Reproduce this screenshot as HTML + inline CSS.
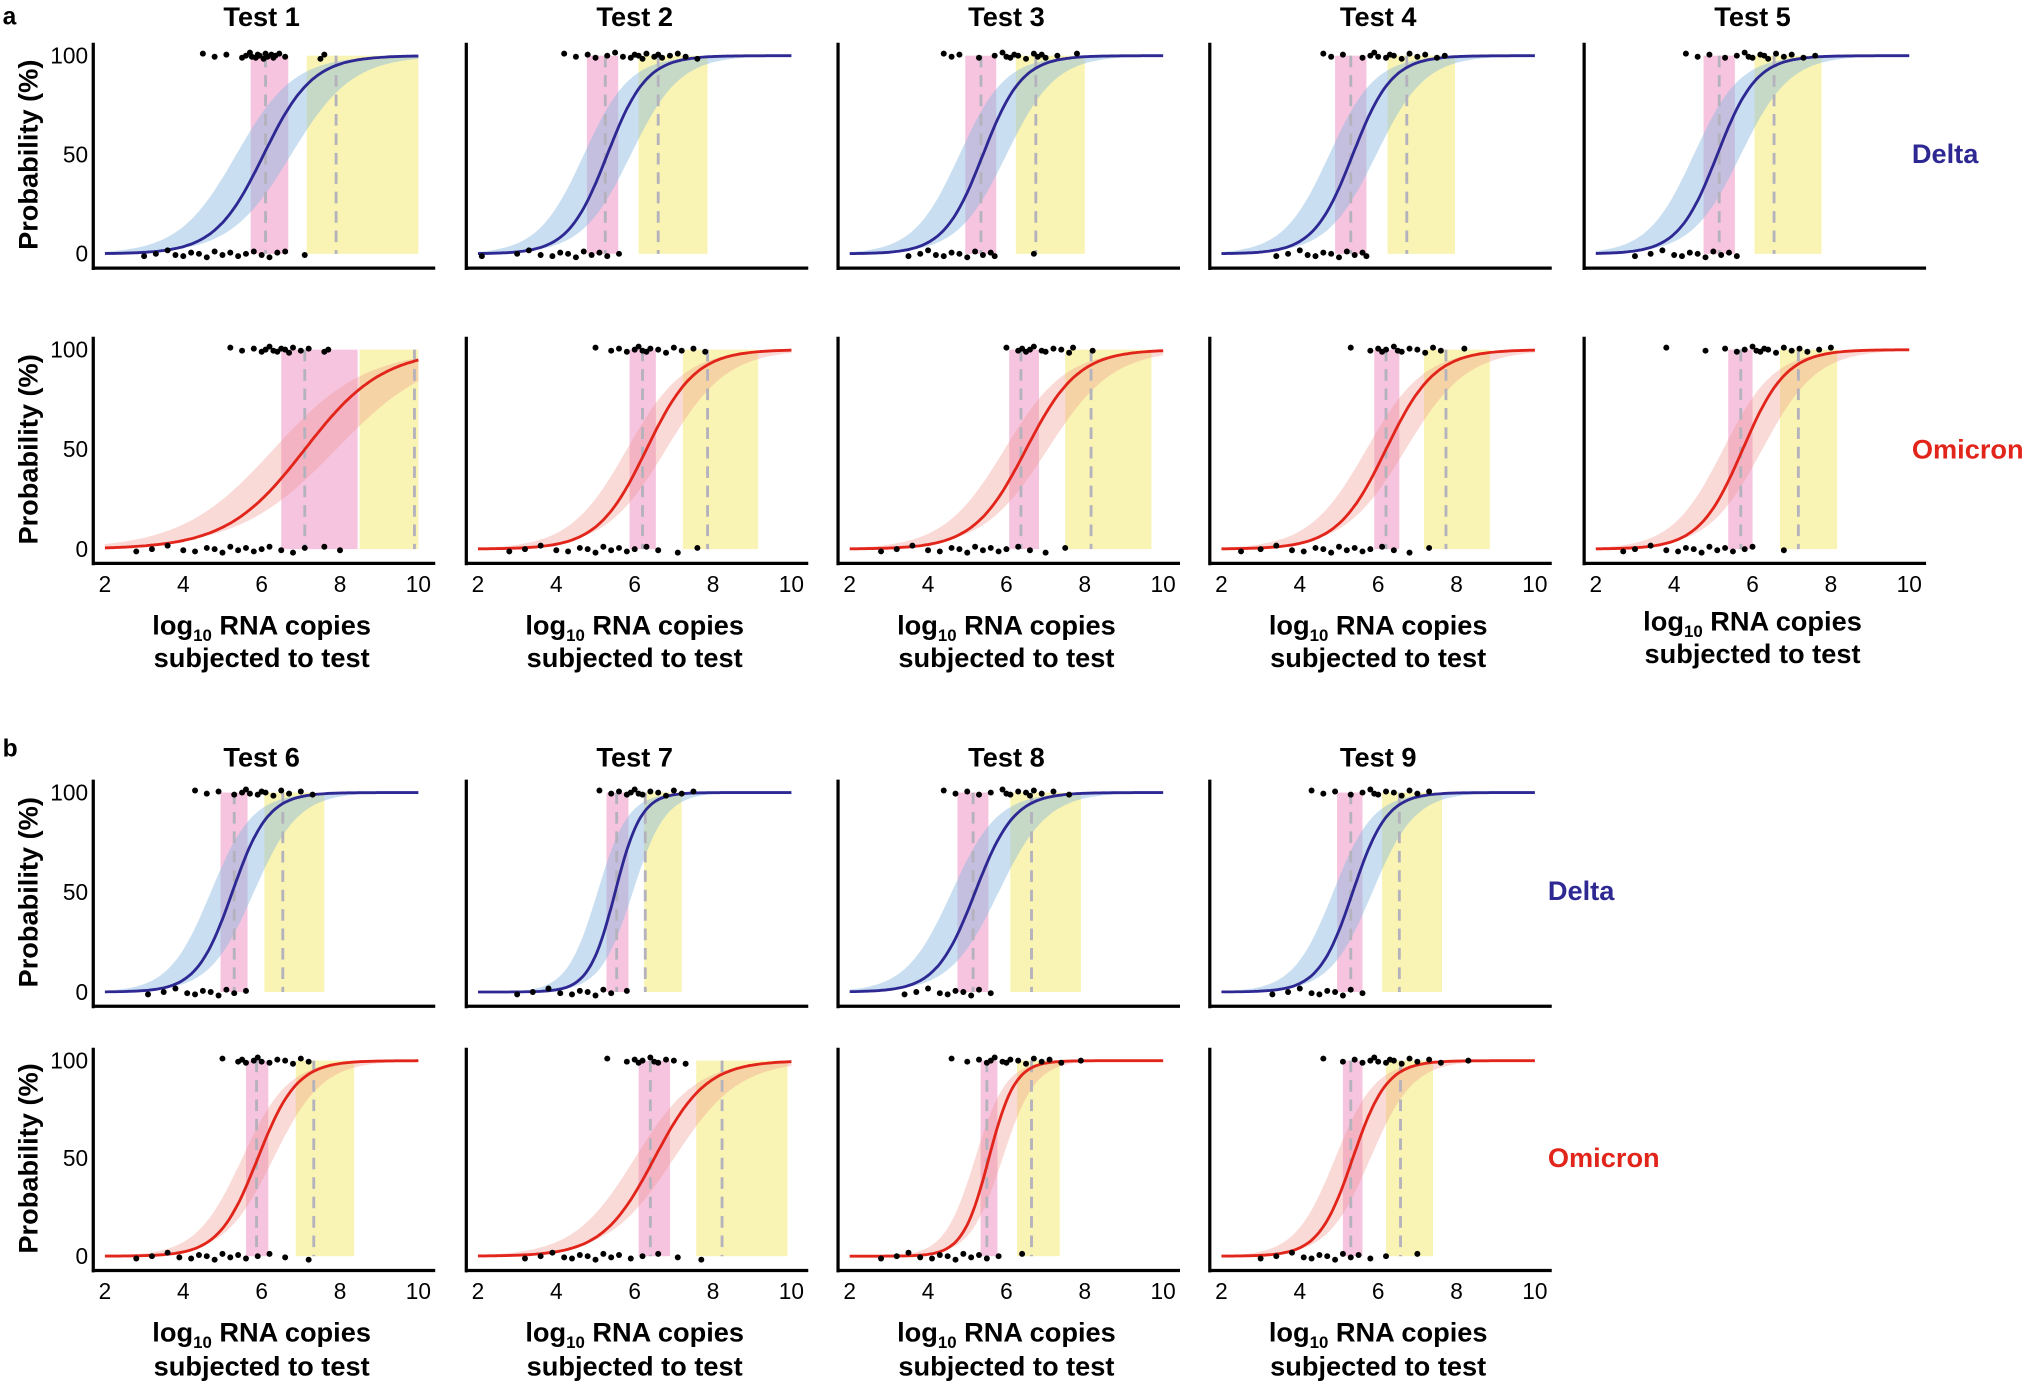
<!DOCTYPE html>
<html><head><meta charset="utf-8">
<style>
html,body{margin:0;padding:0;background:#fff;}
svg{display:block;}
text{font-family:"Liberation Sans",Arial,sans-serif;}
</style></head>
<body>
<svg id="fig" width="2031" height="1387" viewBox="0 0 1568 1071" preserveAspectRatio="none" xmlns="http://www.w3.org/2000/svg">
<text x="2" y="19" font-size="19" font-weight="bold">a</text>
<text x="2" y="584" font-size="19" font-weight="bold">b</text>
<g id="plots"></g>
</svg>
<script>
// Panel order: T1..T5 delta, T1..T5 omicron, T6..T9 delta, T6..T9 omicron
const testNames = ["Test 1","Test 2","Test 3","Test 4","Test 5","Test 1","Test 2","Test 3","Test 4","Test 5","Test 6","Test 7","Test 8","Test 9","Test 6","Test 7","Test 8","Test 9"];
const variants = ["d","d","d","d","d","o","o","o","o","o","d","d","d","d","o","o","o","o"];
const centers = [6.05,5.3,5.4,5.35,5.1, 7.1,6.3,6.5,6.2,5.75, 5.25,5.5,5.2,5.35, 5.9,6.5,5.55,5.35];
const slopes  = [1.6,2.0,2.0,2.0,2.0, 1.0,1.6,1.5,1.6,1.8, 2.2,3.0,2.0,2.3, 2.0,1.5,3.0,2.3];
const bandW   = [0.7,0.6,0.6,0.6,0.6, 0.8,0.5,0.55,0.5,0.5, 0.55,0.45,0.6,0.5, 0.4,0.5,0.35,0.45];
const pinkLo  = [5.72,4.78,4.95,4.9,4.75, 6.5,5.87,6.07,5.9,5.38, 4.95,5.28,4.75,4.95, 5.6,6.1,5.34,5.1];
const pinkHi  = [6.68,5.58,5.74,5.7,5.55, 8.45,6.54,6.83,6.54,6.0, 5.64,5.84,5.54,5.6, 6.17,6.9,5.77,5.6];
const yelLo   = [7.15,6.1,6.24,6.24,6.05, 8.5,7.23,7.5,7.17,6.7, 6.07,6.24,6.1,6.1, 6.87,7.57,6.27,6.2];
const yelHi   = [10,7.86,8.0,7.96,7.76, 10,9.15,9.7,8.85,8.16, 7.6,7.2,7.9,7.63, 8.36,9.9,7.36,7.4];
const dashA   = [6.1,5.25,5.35,5.3,5.15, 7.1,6.2,6.37,6.2,5.7, 5.3,5.54,5.15,5.3, 5.87,6.4,5.5,5.3];
const dashB   = [7.9,6.6,6.75,6.73,6.55, 9.9,7.86,8.16,7.73,7.17, 6.54,6.27,6.64,6.54, 7.33,8.23,6.64,6.57];
const topDots = [
 [4.5,4.8,5.1,5.5,5.6,5.7,5.75,5.85,5.9,5.95,6.05,6.1,6.15,6.25,6.3,6.35,6.45,6.6,7.5,7.6],
 [4.2,4.5,4.8,5.0,5.3,5.5,5.7,5.9,6.0,6.1,6.2,6.3,6.5,6.6,6.7,6.9,7.1,7.3,7.6],
 [4.4,4.6,4.8,5.3,5.7,5.9,6.0,6.1,6.2,6.3,6.5,6.7,6.8,6.9,7.0,7.3,7.8],
 [4.6,4.8,5.1,5.6,5.8,5.9,6.0,6.2,6.3,6.4,6.6,6.8,7.0,7.2,7.5,7.7],
 [4.3,4.6,4.9,5.3,5.6,5.8,5.9,6.0,6.2,6.3,6.4,6.6,6.8,7.0,7.3,7.6],
 [5.2,5.5,5.8,6.0,6.1,6.2,6.3,6.4,6.5,6.6,6.7,6.8,7.0,7.2,7.6,7.7],
 [5.0,5.4,5.6,5.8,6.0,6.1,6.2,6.3,6.4,6.6,6.8,7.0,7.2,7.5,7.8],
 [6.0,6.3,6.4,6.5,6.6,6.7,6.9,7.0,7.2,7.4,7.6,7.7,8.2],
 [5.3,5.8,6.0,6.1,6.2,6.4,6.5,6.6,6.8,7.0,7.2,7.4,7.6,8.2],
 [3.8,4.8,5.3,5.6,5.8,6.0,6.1,6.2,6.3,6.4,6.6,6.8,7.0,7.2,7.4,7.7,8.0],
 [4.3,4.6,4.9,5.3,5.5,5.6,5.7,5.9,6.0,6.1,6.3,6.5,6.7,7.0,7.3],
 [5.1,5.4,5.6,5.8,5.9,6.0,6.1,6.2,6.4,6.6,6.8,7.0,7.2,7.5],
 [4.4,4.7,5.0,5.3,5.6,5.9,6.0,6.1,6.3,6.5,6.6,6.7,6.9,7.2,7.6],
 [4.3,4.6,4.9,5.3,5.6,5.8,5.9,6.0,6.2,6.4,6.6,6.8,7.0,7.3],
 [5.0,5.4,5.5,5.6,5.8,5.9,6.0,6.2,6.4,6.6,6.8,7.0,7.2],
 [5.3,5.8,6.0,6.1,6.2,6.4,6.5,6.6,6.8,7.0,7.3],
 [4.6,5.0,5.3,5.5,5.6,5.7,5.9,6.0,6.1,6.3,6.5,6.7,6.9,7.1,7.4,7.9],
 [4.6,5.1,5.4,5.6,5.8,5.9,6.0,6.2,6.3,6.4,6.6,6.8,7.0,7.3,7.6,8.3]
];
const botDots = [
 [3.0,3.3,3.6,3.8,4.0,4.2,4.4,4.6,4.8,5.0,5.2,5.4,5.6,5.8,6.0,6.2,6.4,6.6,7.1],
 [2.1,3.0,3.3,3.6,3.9,4.1,4.3,4.5,4.7,4.9,5.1,5.3,5.6],
 [3.5,3.8,4.0,4.2,4.4,4.6,4.8,5.0,5.2,5.4,5.6,5.7,6.7],
 [3.4,3.7,4.0,4.2,4.4,4.6,4.8,5.0,5.2,5.4,5.6,5.7],
 [3.0,3.4,3.7,4.0,4.2,4.4,4.6,4.8,5.0,5.2,5.4,5.6],
 [2.8,3.2,3.6,4.0,4.3,4.6,4.8,5.0,5.2,5.4,5.6,5.8,6.0,6.2,6.5,6.8,7.1,7.6,8.0],
 [2.8,3.2,3.6,4.0,4.3,4.6,4.8,5.0,5.2,5.4,5.6,5.8,6.0,6.3,6.6,7.1,7.6],
 [2.8,3.2,3.6,4.0,4.3,4.6,4.8,5.0,5.2,5.4,5.6,5.8,6.0,6.3,6.6,7.0,7.5],
 [2.5,3.0,3.4,3.8,4.1,4.4,4.6,4.8,5.0,5.2,5.4,5.6,5.8,6.1,6.4,6.8,7.3],
 [2.7,3.0,3.4,3.8,4.1,4.3,4.5,4.7,4.9,5.1,5.3,5.5,5.8,6.0,6.8],
 [3.1,3.5,3.8,4.1,4.3,4.5,4.7,4.9,5.1,5.3,5.6],
 [3.0,3.4,3.8,4.1,4.4,4.6,4.8,5.0,5.2,5.4,5.8],
 [3.4,3.7,4.0,4.3,4.5,4.7,4.9,5.1,5.3,5.6],
 [3.3,3.7,4.0,4.3,4.5,4.7,4.9,5.1,5.3,5.6],
 [2.8,3.2,3.6,3.9,4.2,4.4,4.6,4.8,5.0,5.2,5.4,5.6,5.9,6.2,6.6,7.2],
 [3.2,3.6,3.9,4.2,4.4,4.6,4.8,5.0,5.2,5.4,5.6,5.9,6.2,6.6,7.1,7.7],
 [2.8,3.2,3.5,3.8,4.1,4.3,4.5,4.7,4.9,5.1,5.3,5.5,5.8,6.4],
 [3.0,3.4,3.8,4.1,4.3,4.5,4.7,4.9,5.1,5.3,5.5,5.8,6.2,7.0]
];
const xTicks = [2,4,6,8,10];
const yTicks = [0,50,100];

const NS = "http://www.w3.org/2000/svg";
const root = document.getElementById("plots");
function mk(tag, attrs, parent){
  const e = document.createElementNS(NS, tag);
  for (const k in attrs) e.setAttribute(k, attrs[k]);
  (parent||root).appendChild(e);
  return e;
}
const colX2 = [81,369,656,943,1232];
const unit = 30.25;
const rows = [[43,196],[270,424],[612,766],[819,970]];
const jit = [-2,1,-1,2,0,-3,1,2,-1,0,3,-2,1,-1,2,0,-2,1,3,-1];
const colors = {
  d:{line:"#2e2893", band:"rgba(135,183,223,0.45)"},
  o:{line:"#e2251b", band:"rgba(240,150,140,0.35)"}
};
function logi(x,c,k){return 1/(1+Math.exp(-k*(x-c)));}

for (let i=0;i<18;i++){
  let row, col;
  if (i<5){row=0;col=i;} else if(i<10){row=1;col=i-5;} else if(i<14){row=2;col=i-10;} else {row=3;col=i-14;}
  const x2 = colX2[col], y100 = rows[row][0], y0 = rows[row][1];
  const X = v => x2 + (v-2)*unit;
  const Y = p => y0 - (p/100)*(y0-y100);
  const g = mk("g", {});
  
  
  const col_ = colors[variants[i]];
  const pr = mk("rect",{x:X(pinkLo[i]),y:Y(100),width:X(pinkHi[i])-X(pinkLo[i]),height:Y(0)-Y(100),fill:"#f6c4df"},g);
  
  
  const yr = mk("rect",{x:X(yelLo[i]),y:Y(100),width:X(yelHi[i])-X(yelLo[i]),height:Y(0)-Y(100),fill:"#f9f4b3"},g);
  
  
  let up=[], lo=[];
  for (let s=0;s<=160;s++){
    const v = 2 + s*8/160;
    up.push(X(v).toFixed(1)+","+Y(100*logi(v,centers[i]-bandW[i],slopes[i]*0.85)).toFixed(1));
    lo.push(X(v).toFixed(1)+","+Y(100*logi(v,centers[i]+bandW[i],slopes[i]*0.8)).toFixed(1));
  }
  const band = mk("polygon",{points:up.concat(lo.reverse()).join(" "),fill:col_.band},g);
  
  
  [dashA[i],dashB[i]].forEach((d,j)=>{
    const l = mk("line",{x1:X(d),x2:X(d),y1:Y(100),y2:Y(0),stroke:"#b4b2bc","stroke-width":2.2,"stroke-dasharray":"9,6"},g);
    
    
  });
  let pts=[];
  for (let s=0;s<=160;s++){const v=2+s*8/160; pts.push(X(v).toFixed(1)+","+Y(100*logi(v,centers[i],slopes[i])).toFixed(1));}
  const cv = mk("polyline",{points:pts.join(" "),fill:"none",stroke:col_.line,"stroke-width":2.2},g);
  
  
  topDots[i].forEach((v,j)=>{
    const c = mk("circle",{cx:X(v),cy:Y(100)+jit[j%jit.length]*0.8,r:2.3,fill:"#000"},g);
    
    
  });
  botDots[i].forEach((v,j)=>{
    const c = mk("circle",{cx:X(v),cy:Y(0)+jit[(j+3)%jit.length]*0.9,r:2.3,fill:"#000"},g);
    
    
  });
  const axX = x2-9, axBottom = y0+11, axTop = y100-10;
  const ya = mk("line",{x1:axX,x2:axX,y1:axTop,y2:axBottom+1.5,stroke:"#000","stroke-width":2.5},g);
  
  
  const xa = mk("line",{x1:axX-1,x2:X(10)+13,y1:axBottom,y2:axBottom,stroke:"#000","stroke-width":2.5},g);
  
  
  if (col===0){
    yTicks.forEach(t=>{
      const tt = mk("text",{x:axX-4,y:Y(t)+6,"font-size":17.5,"text-anchor":"end"},g);
      tt.textContent = t;
      
      
    });
    const yt = mk("text",{x:0,y:0,"font-size":21,"font-weight":"bold","text-anchor":"middle",transform:`translate(29,${(y100+y0)/2}) rotate(-90)`},g);
    yt.textContent = "Probability (%)";
    
    
  }
  if (row===0||row===2){
    const tl = mk("text",{x:X(6),y:row===0?20:592,"font-size":21,"font-weight":"bold","text-anchor":"middle"},g);
    tl.textContent = testNames[i];
    
    
  }
  if (row===1||row===3){
    const ty = row===1?457:1003;
    xTicks.forEach(t=>{
      const tt = mk("text",{x:X(t),y:ty,"font-size":17.5,"text-anchor":"middle"},g);
      tt.textContent = t;
      
      
    });
    const l1 = row===1?(col===4?487:490):1036, l2 = row===1?(col===4?512:515):1062;
    const a = mk("text",{x:X(6),y:l1,"font-size":21,"font-weight":"bold","text-anchor":"middle"},g);
    a.innerHTML = 'log<tspan font-size="13" dy="5">10</tspan><tspan dy="-5"> RNA copies</tspan>';
    
    
    const b = mk("text",{x:X(6),y:l2,"font-size":21,"font-weight":"bold","text-anchor":"middle"},g);
    b.textContent = "subjected to test";
    
    
  }
}
[[1476,126,"Delta","#2e2893"],[1476,354,"Omicron","#e2251b"],[1195,695,"Delta","#2e2893"],[1195,901,"Omicron","#e2251b"]].forEach(v=>{
  const t = mk("text",{x:v[0],y:v[1],"font-size":21,"font-weight":"bold",fill:v[3]});
  t.textContent = v[2];
  
  
});
</script>
</body></html>
